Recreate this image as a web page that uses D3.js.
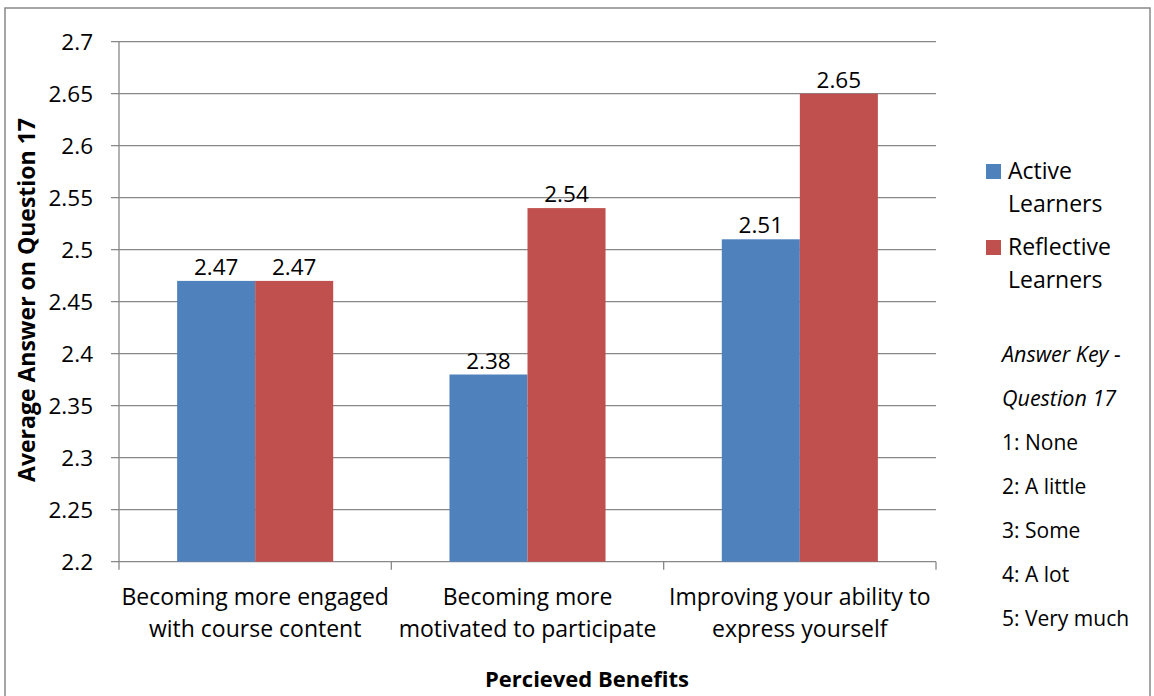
<!DOCTYPE html>
<html><head><meta charset="utf-8">
<script src="https://cdn.jsdelivr.net/npm/d3@7"></script>
<style>body{margin:0;background:#fff}svg{display:block}text{font-family:"Open Sans",Lato,sans-serif;fill:#000}</style>
</head><body><svg id="c" width="1154" height="696"></svg>
<script>
const categories = [["Becoming more engaged","with course content"],["Becoming more","motivated to participate"],["Improving your ability to","express yourself"]];
const seriesNames = ["Active Learners","Reflective Learners"];
const activeValues = [2.47, 2.38, 2.51];
const reflectiveValues = [2.47, 2.54, 2.65];
const yTicks = [2.2,2.25,2.3,2.35,2.4,2.45,2.5,2.55,2.6,2.65,2.7];
const keyLines = ["1: None","2: A little","3: Some","4: A lot","5: Very much"];
const colors = ["#4F81BD","#C0504D"];

const svg = d3.select("#c");
const L=119, R=936, T=41.7, B=561.7;
svg.append("rect").attr("x",5).attr("y",8).attr("width",1145).attr("height",700).attr("fill","none").attr("stroke","#888").attr("stroke-width",1.5);

const x = d3.scaleBand().domain(d3.range(categories.length)).range([L,R]).paddingInner(0).paddingOuter(0);
const x1 = d3.scaleBand().domain([0,1]).range([0,x.bandwidth()]).paddingInner(0).paddingOuter(0.745);
const y = d3.scaleLinear().domain([2.2,2.7]).range([B,T]);

svg.append("g").selectAll("line").data(yTicks).join("line")
  .attr("x1",L-8).attr("x2",R).attr("y1",d=>y(d)).attr("y2",d=>y(d))
  .attr("stroke","#888").attr("stroke-width",1.3);
svg.append("line").attr("x1",L).attr("x2",L).attr("y1",T).attr("y2",B).attr("stroke","#888").attr("stroke-width",1.3);
svg.append("g").selectAll("text").data(yTicks).join("text")
  .attr("x",93).attr("y",d=>y(d)).attr("dy","0.36em").attr("text-anchor","end")
  .style("font-size","22.5px").text(d=>d3.format("")(d));
const xt = d3.range(categories.length+1).map(i=> i<categories.length? x(i): R);
svg.append("g").selectAll("line").data(xt).join("line")
  .attr("x1",d=>d).attr("x2",d=>d).attr("y1",B).attr("y2",B+8).attr("stroke","#888").attr("stroke-width",1.3);

const data = categories.map((c,i)=>({i, vals:[activeValues[i], reflectiveValues[i]]}));
const g = svg.append("g").selectAll("g").data(data).join("g").attr("transform",d=>`translate(${x(d.i)},0)`);
g.selectAll("rect").data(d=>d.vals.map((v,s)=>({v,s}))).join("rect")
  .attr("x",d=>x1(d.s)).attr("width",x1.bandwidth()).attr("y",d=>y(d.v)).attr("height",d=>B-y(d.v)).attr("fill",d=>colors[d.s]);
g.selectAll("text.v").data(d=>d.vals.map((v,s)=>({v,s}))).join("text").attr("class","v")
  .attr("x",d=>x1(d.s)+x1.bandwidth()/2).attr("y",d=>y(d.v)-6).attr("text-anchor","middle")
  .style("font-size","22.5px").text(d=>d3.format(".2f")(d.v));

svg.append("g").selectAll("text").data(categories).join("text")
  .attr("x",(d,i)=>x(i)+x.bandwidth()/2).attr("y",605).attr("text-anchor","middle").style("font-size","23px")
  .selectAll("tspan").data(d=>d).join("tspan").attr("x",function(){return this.parentNode.getAttribute("x");}).attr("dy",(d,j)=>j?32:0).text(d=>d);

svg.append("text").attr("x",587).attr("y",687).attr("text-anchor","middle").style("font-size","22px").style("font-weight","bold").text("Percieved Benefits");
svg.append("text").attr("transform","translate(35,300) rotate(-90)").attr("text-anchor","middle").style("font-size","23px").style("font-weight","bold").text("Average Answer on Question 17");

const leg = svg.append("g").selectAll("g").data(seriesNames).join("g").attr("transform",(d,i)=>`translate(986,${164+i*76})`);
leg.append("rect").attr("width",15).attr("height",15).attr("fill",(d,i)=>colors[i]);
leg.append("text").attr("x",22).attr("y",15).style("font-size","23px")
  .selectAll("tspan").data(d=>d.split(" ")).join("tspan").attr("x",22).attr("dy",(d,j)=>j?33:0).text(d=>d);

const key = svg.append("g");
key.selectAll("text.h").data(["Answer Key -","Question 17"]).join("text").attr("class","h")
  .attr("x",1002).attr("y",(d,i)=>362+i*44).style("font-size","21.5px").style("font-style","italic").text(d=>d);
key.selectAll("text.k").data(keyLines).join("text").attr("class","k")
  .attr("x",1002).attr("y",(d,i)=>450+i*44).style("font-size","21px").text(d=>d);
</script></body></html>
